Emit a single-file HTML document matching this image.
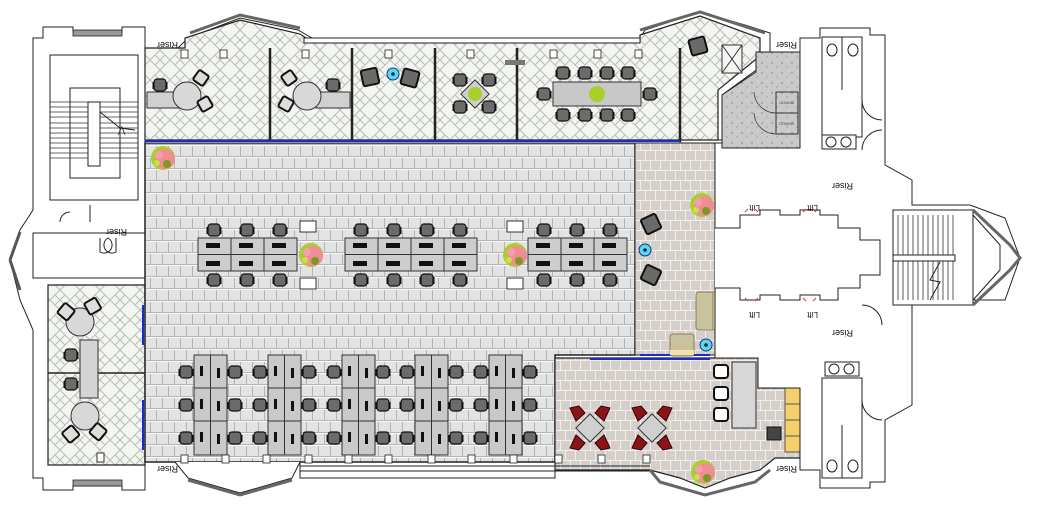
<!DOCTYPE html>
<html><head><meta charset="utf-8"><style>
html,body{margin:0;padding:0;background:#fff;width:1045px;height:510px;overflow:hidden}
svg{display:block}
text{font-family:"Liberation Sans",sans-serif}
</style></head><body>
<svg width="1045" height="510" viewBox="0 0 1045 510" xmlns="http://www.w3.org/2000/svg">
<defs>
<pattern id="tile" width="24" height="24" patternUnits="userSpaceOnUse">
<rect width="24" height="24" fill="#e3e3e3"/>
<path d="M0 .5H24M0 12.5H24M.5 0V12M12.5 0V12M6.5 12V24M18.5 12V24" stroke="#b4b4b4" stroke-width="1"/>
<path d="M0 1.5H24M0 13.5H24" stroke="#fafafa" stroke-width="1"/>
</pattern>
<pattern id="tile2" width="20" height="20" patternUnits="userSpaceOnUse">
<rect width="20" height="20" fill="#d5cfcb"/>
<path d="M0 .5H20M0 10.5H20M.5 0V10M10.5 0V10M5.5 10V20M15.5 10V20" stroke="#f2eeea" stroke-width="1"/>
</pattern>
<pattern id="herr" width="20" height="20" patternUnits="userSpaceOnUse">
<rect width="20" height="20" fill="#f3f6f0"/>
<path d="M0 10L10 0L20 10L10 20Z M0 0L5 5 M15 15L20 20 M20 0L15 5 M5 15L0 20" fill="none" stroke="#b9bdb5" stroke-width="1"/>
</pattern>
<pattern id="speck" width="10" height="10" patternUnits="userSpaceOnUse">
<rect width="10" height="10" fill="#c9c9c9"/><circle cx="2" cy="3" r=".7" fill="#777"/><circle cx="7" cy="7" r=".6" fill="#888"/><circle cx="8" cy="1" r=".5" fill="#eee"/>
</pattern>
<g id="ch"><rect x="-6" y="-6" width="12" height="12" rx="3" fill="#6b6b6b" stroke="#111" stroke-width="1.2"/><rect x="-7.5" y="-3" width="2" height="7" fill="#111"/><rect x="5.5" y="-3" width="2" height="7" fill="#111"/></g>
<g id="arm"><rect x="-8" y="-8" width="16" height="16" rx="2" fill="#6a6a6a" stroke="#111" stroke-width="2"/></g>
<g id="plant"><circle r="12" fill="#a9cf2c"/><circle cx="2" cy="1" r="10" fill="#f08c94"/><circle cx="-4" cy="-3" r="4" fill="#f2a0a8"/><circle cx="4" cy="6" r="4" fill="#7a9b22"/><circle cx="-6" cy="5" r="3" fill="#c9e04a"/></g>
<g id="rchair"><path d="M-7 -7 L2 -9 L8 -2 L-1 6 Z" fill="#8b1418" stroke="#300" stroke-width="1"/></g>
</defs>

<!-- LEFT CORE -->
<path d="M33 38H43V27H73V32H122V27H145V490H122V486H73V490H43V478H33V330L20 300L10 260L20 230L33 210Z" fill="#fff" stroke="#222" stroke-width="1"/>
<rect x="73" y="30" width="49" height="6" fill="#999" stroke="#222" stroke-width=".8"/>
<rect x="73" y="480" width="49" height="6" fill="#999" stroke="#222" stroke-width=".8"/>
<rect x="50" y="55" width="88" height="145" fill="#fff" stroke="#222"/>
<rect x="70" y="88" width="50" height="90" fill="none" stroke="#222"/>
<g stroke="#333" stroke-width=".8">
<path d="M50 102H138M50 107H138M50 112H138M50 117H138M50 123H138M50 128H138M50 133H138M50 138H138M50 143H138M50 148H138M50 153H138M50 158H138"/>
</g>
<rect x="88" y="102" width="12" height="64" fill="#fff" stroke="#222"/>
<path d="M100 112L120 128L135 130" fill="none" stroke="#222"/>
<text x="118" y="133" font-size="9" fill="#222">⋀</text>
<rect x="33" y="233" width="112" height="45" fill="#fff" stroke="#222"/>
<path d="M10 260L20 232M10 260L20 290" stroke="#555" stroke-width="3"/>
<text transform="translate(127,229) rotate(180)" font-size="9" fill="#111">Riser</text>
<text transform="translate(73,285) rotate(180)" font-size="9" fill="#111">FHR</text>
<path d="M60 222A10 10 0 0 1 70 212M90 205V222M100 238V252A8 8 0 0 0 108 238 A8 8 0 0 0 116 252V238" fill="none" stroke="#222"/>
<!-- left offices -->
<path d="M48 285H145V465H48Z" fill="url(#herr)" stroke="#222" stroke-width="1.2"/>
<line x1="48" y1="373" x2="145" y2="373" stroke="#222" stroke-width="1.5"/>
<rect x="80" y="340" width="18" height="58" fill="#d4d4d4" stroke="#333"/>
<circle cx="80" cy="322" r="14" fill="#d8d8d8" stroke="#333"/>
<circle cx="85" cy="416" r="14" fill="#d8d8d8" stroke="#333"/>
<use href="#ch" x="71" y="355"/><use href="#ch" x="71" y="384"/>
<rect x="60" y="305" width="13" height="13" rx="2" transform="rotate(40 66 311)" fill="#ddd" stroke="#111" stroke-width="2"/>
<rect x="86" y="300" width="13" height="13" rx="2" transform="rotate(-30 92 306)" fill="#ddd" stroke="#111" stroke-width="2"/>
<rect x="64" y="428" width="13" height="13" rx="2" transform="rotate(-40 70 434)" fill="#ddd" stroke="#111" stroke-width="2"/>
<rect x="92" y="425" width="13" height="13" rx="2" transform="rotate(40 98 431)" fill="#ddd" stroke="#111" stroke-width="2"/>
<rect x="97" y="453" width="7" height="9" fill="#fff" stroke="#333"/>
<line x1="143" y1="305" x2="143" y2="345" stroke="#1a2bd0" stroke-width="2"/>
<line x1="143" y1="400" x2="143" y2="450" stroke="#1a2bd0" stroke-width="2"/>

<!-- MAIN FLOOR -->
<path d="M145 143H635V355H555V462H145Z" fill="url(#tile)" stroke="#222" stroke-width="1.5"/>
<rect x="635" y="143" width="80" height="212" fill="url(#tile2)" stroke="#222"/>
<path d="M555 358H758V388H800V458H775L760 470L730 478L705 488L680 478L650 470H555Z" fill="url(#tile2)" stroke="#222" stroke-width="1.2"/>
<line x1="590" y1="359" x2="710" y2="359" stroke="#1a2bd0" stroke-width="2"/>
<line x1="640" y1="355" x2="710" y2="355" stroke="#1a2bd0" stroke-width="2"/>

<!-- TOP OFFICES -->
<path d="M145 48H178L188 38L240 18L298 30L312 38H640L645 30L700 12L745 25L770 33V60L722 95V140H680V143H145Z" fill="#fff" stroke="#222"/>
<path d="M145 48H185V38L240 20L300 34L312 42H640V35L700 16L760 38V56L718 90V140H145Z" fill="url(#herr)" stroke="#222" stroke-width="1.2"/>
<path d="M190 33L240 15L300 28M640 30L700 12L765 33" fill="none" stroke="#666" stroke-width="3"/>
<rect x="304" y="38" width="336" height="5" fill="#fff" stroke="#222"/>
<g stroke="#222" stroke-width="2.5">
<line x1="270" y1="48" x2="270" y2="142"/><line x1="352" y1="48" x2="352" y2="142"/><line x1="435" y1="48" x2="435" y2="142"/><line x1="517" y1="48" x2="517" y2="142"/><line x1="680" y1="48" x2="680" y2="142"/>
</g>
<line x1="145" y1="141" x2="680" y2="141" stroke="#1a2bd0" stroke-width="2"/>
<g fill="#fff" stroke="#222" stroke-width=".8">
<rect x="181" y="50" width="7" height="8"/><rect x="220" y="50" width="7" height="8"/><rect x="302" y="50" width="7" height="8"/><rect x="385" y="50" width="7" height="8"/><rect x="467" y="50" width="7" height="8"/><rect x="550" y="50" width="7" height="8"/><rect x="594" y="50" width="7" height="8"/><rect x="635" y="50" width="7" height="8"/>
</g>
<text transform="translate(178,42) rotate(180)" font-size="9" fill="#111">Riser</text>
<rect x="147" y="92" width="32" height="16" fill="#d0d0d0" stroke="#333"/>
<circle cx="187" cy="96" r="14" fill="#d8d8d8" stroke="#333"/>
<use href="#ch" x="160" y="85"/>
<rect x="195" y="72" width="12" height="12" rx="2" transform="rotate(35 201 78)" fill="#ddd" stroke="#111" stroke-width="2"/>
<rect x="199" y="98" width="12" height="12" rx="2" transform="rotate(-30 205 104)" fill="#ddd" stroke="#111" stroke-width="2"/>
<rect x="316" y="92" width="34" height="16" fill="#d0d0d0" stroke="#333"/>
<circle cx="307" cy="96" r="14" fill="#d8d8d8" stroke="#333"/>
<use href="#ch" x="333" y="85"/>
<rect x="283" y="72" width="12" height="12" rx="2" transform="rotate(-35 289 78)" fill="#ddd" stroke="#111" stroke-width="2"/>
<rect x="280" y="98" width="12" height="12" rx="2" transform="rotate(30 286 104)" fill="#ddd" stroke="#111" stroke-width="2"/>
<use href="#arm" x="370" y="77" transform="rotate(-12 370 77)"/>
<use href="#arm" x="410" y="78" transform="rotate(15 410 78)"/>
<circle cx="393" cy="74" r="6" fill="#5ad8ef" stroke="#138" stroke-width="1"/><circle cx="393" cy="74" r="1.8" fill="#123"/>
<g><use href="#ch" x="460" y="80"/><use href="#ch" x="489" y="80"/><use href="#ch" x="460" y="107"/><use href="#ch" x="489" y="107"/>
<rect x="465" y="84" width="20" height="20" transform="rotate(45 475 94)" fill="#cfcfcf" stroke="#333"/>
<circle cx="475" cy="94" r="7" fill="#a9cf2c"/></g>
<rect x="505" y="60" width="20" height="5" fill="#777"/>
<rect x="553" y="82" width="88" height="24" fill="#c8c8c8" stroke="#333"/>
<circle cx="597" cy="94" r="8" fill="#a9cf2c"/>
<use href="#ch" x="563" y="73"/><use href="#ch" x="585" y="73"/><use href="#ch" x="607" y="73"/><use href="#ch" x="628" y="73"/>
<use href="#ch" x="563" y="115"/><use href="#ch" x="585" y="115"/><use href="#ch" x="607" y="115"/><use href="#ch" x="628" y="115"/>
<use href="#ch" x="544" y="94"/><use href="#ch" x="650" y="94"/>
<use href="#arm" x="698" y="46" transform="rotate(-15 698 46)"/>
<rect x="722" y="45" width="20" height="28" fill="#f4f4f4" stroke="#333"/>
<path d="M722 45L742 73M742 45L722 73" stroke="#333"/>
<path d="M722 95L756 72V52H800V148H722Z" fill="url(#speck)" stroke="#222"/>
<rect x="776" y="92" width="22" height="42" fill="none" stroke="#333"/>
<line x1="776" y1="113" x2="798" y2="113" stroke="#333"/>
<text x="779" y="104" font-size="4" fill="#555">COMMS</text><text x="779" y="125" font-size="4" fill="#555">COMMS</text>
<path d="M754 92A22 22 0 0 0 776 113M754 113A22 22 0 0 0 776 134" fill="none" stroke="#333" stroke-width=".7"/>
<text transform="translate(801,72) rotate(90)" font-size="9" fill="#111">Riser</text>
<text transform="translate(797,42) rotate(180)" font-size="9" fill="#111">Riser</text>

<!-- desk clusters middle -->
<g>
<rect x="198" y="238" width="99" height="33" fill="#cdcdcd" stroke="#333"/>
<rect x="345" y="238" width="132" height="33" fill="#cdcdcd" stroke="#333"/>
<rect x="528" y="238" width="99" height="33" fill="#cdcdcd" stroke="#333"/>
<path d="M198 254.5H297M231 238V271M264 238V271M345 254.5H477M378 238V271M411 238V271M444 238V271M528 254.5H627M561 238V271M594 238V271" stroke="#333" fill="none"/>
<use href="#ch" x="214" y="230"/><use href="#ch" x="247" y="230"/><use href="#ch" x="280" y="230"/>
<use href="#ch" x="214" y="280"/><use href="#ch" x="247" y="280"/><use href="#ch" x="280" y="280"/>
<use href="#ch" x="361" y="230"/><use href="#ch" x="394" y="230"/><use href="#ch" x="427" y="230"/><use href="#ch" x="460" y="230"/>
<use href="#ch" x="361" y="280"/><use href="#ch" x="394" y="280"/><use href="#ch" x="427" y="280"/><use href="#ch" x="460" y="280"/>
<use href="#ch" x="544" y="230"/><use href="#ch" x="577" y="230"/><use href="#ch" x="610" y="230"/>
<use href="#ch" x="544" y="280"/><use href="#ch" x="577" y="280"/><use href="#ch" x="610" y="280"/>
<g fill="#111"><rect x="206" y="243" width="14" height="5"/><rect x="239" y="243" width="14" height="5"/><rect x="272" y="243" width="14" height="5"/><rect x="353" y="243" width="14" height="5"/><rect x="386" y="243" width="14" height="5"/><rect x="419" y="243" width="14" height="5"/><rect x="452" y="243" width="14" height="5"/><rect x="536" y="243" width="14" height="5"/><rect x="569" y="243" width="14" height="5"/><rect x="602" y="243" width="14" height="5"/>
<rect x="206" y="261" width="14" height="5"/><rect x="239" y="261" width="14" height="5"/><rect x="272" y="261" width="14" height="5"/><rect x="353" y="261" width="14" height="5"/><rect x="386" y="261" width="14" height="5"/><rect x="419" y="261" width="14" height="5"/><rect x="452" y="261" width="14" height="5"/><rect x="536" y="261" width="14" height="5"/><rect x="569" y="261" width="14" height="5"/><rect x="602" y="261" width="14" height="5"/></g>
<rect x="300" y="221" width="16" height="11" fill="#fff" stroke="#333"/><rect x="300" y="278" width="16" height="11" fill="#fff" stroke="#333"/>
<rect x="507" y="221" width="16" height="11" fill="#fff" stroke="#333"/><rect x="507" y="278" width="16" height="11" fill="#fff" stroke="#333"/>
<use href="#plant" x="311" y="255"/>
<use href="#plant" x="515" y="255"/>
<use href="#plant" x="163" y="158"/>
</g>

<!-- bottom clusters -->
<g id="bc">
<rect x="194" y="355" width="33" height="100" fill="#c9c9c9" stroke="#333"/>
<path d="M210.5 355V455M194 388H227M194 421H227" stroke="#333"/>
<use href="#ch" x="186" y="372"/><use href="#ch" x="186" y="405"/><use href="#ch" x="186" y="438"/>
<use href="#ch" x="235" y="372"/><use href="#ch" x="235" y="405"/><use href="#ch" x="235" y="438"/>
<rect x="200" y="366" width="3" height="10" fill="#111"/><rect x="200" y="399" width="3" height="10" fill="#111"/><rect x="200" y="432" width="3" height="10" fill="#111"/>
<rect x="217" y="368" width="3" height="10" fill="#111"/><rect x="217" y="401" width="3" height="10" fill="#111"/><rect x="217" y="434" width="3" height="10" fill="#111"/>
</g>
<use href="#bc" x="74"/><use href="#bc" x="148"/><use href="#bc" x="221"/><use href="#bc" x="295"/>

<!-- south wall -->
<path d="M145 462H300V478H555V462" fill="none" stroke="#222"/>
<path d="M175 462L188 478L240 493L292 478L300 462" fill="#fff" stroke="#222"/>
<path d="M188 480L240 495L292 480" fill="none" stroke="#666" stroke-width="3"/>
<path d="M300 466H650M300 471H650" stroke="#222" fill="none"/>
<path d="M650 470L660 482L705 495L755 482L770 470" fill="none" stroke="#666" stroke-width="3"/>
<text transform="translate(178,466) rotate(180)" font-size="9" fill="#111">Riser</text>
<text transform="translate(797,466) rotate(180)" font-size="9" fill="#111">Riser</text>
<g fill="#fff" stroke="#222" stroke-width=".8">
<rect x="181" y="455" width="7" height="8"/><rect x="222" y="455" width="7" height="8"/><rect x="263" y="455" width="7" height="8"/><rect x="305" y="455" width="7" height="8"/><rect x="345" y="455" width="7" height="8"/><rect x="385" y="455" width="7" height="8"/><rect x="428" y="455" width="7" height="8"/><rect x="468" y="455" width="7" height="8"/><rect x="510" y="455" width="7" height="8"/><rect x="555" y="455" width="7" height="8"/><rect x="598" y="455" width="7" height="8"/><rect x="643" y="455" width="7" height="8"/>
</g>

<!-- lounge items -->
<use href="#arm" x="651" y="224" transform="rotate(-25 651 224)"/>
<use href="#arm" x="651" y="275" transform="rotate(25 651 275)"/>
<circle cx="645" cy="250" r="6" fill="#5ad8ef" stroke="#138"/><circle cx="645" cy="250" r="1.8" fill="#123"/>
<circle cx="706" cy="345" r="6" fill="#5ad8ef" stroke="#138"/><circle cx="706" cy="345" r="1.8" fill="#123"/>
<use href="#plant" x="702" y="205"/>
<rect x="696" y="292" width="22" height="38" rx="3" fill="#c8c29e" stroke="#8a7e55"/>
<rect x="713" y="292" width="5" height="38" fill="#f2e2b2" stroke="#8a7e55"/>
<rect x="670" y="334" width="24" height="22" rx="3" fill="#c8c29e" stroke="#8a7e55"/>
<rect x="670" y="350" width="24" height="5" fill="#f2e2b2"/>

<!-- kitchen items -->
<rect x="732" y="362" width="24" height="66" fill="#d7d7d7" stroke="#333"/>
<g fill="#fff" stroke="#111" stroke-width="2">
<rect x="714" y="365" width="14" height="13" rx="3"/><rect x="714" y="387" width="14" height="13" rx="3"/><rect x="714" y="408" width="14" height="13" rx="3"/>
</g>
<rect x="785" y="388" width="15" height="64" fill="#f5cf6c" stroke="#555"/>
<path d="M785 404H800M785 420H800M785 436H800" stroke="#555"/>
<rect x="767" y="427" width="14" height="13" fill="#444" stroke="#111"/>
<g>
<rect x="580" y="418" width="20" height="20" transform="rotate(45 590 428)" fill="#d0d0d0" stroke="#333"/>
<rect x="642" y="418" width="20" height="20" transform="rotate(45 652 428)" fill="#d0d0d0" stroke="#333"/>
<g transform="translate(590 428)"><use href="#rchair" x="-13" y="-13"/><use href="#rchair" x="-13" y="-13" transform="scale(-1 1)"/><use href="#rchair" x="-13" y="-13" transform="scale(1 -1)"/><use href="#rchair" x="-13" y="-13" transform="scale(-1 -1)"/></g>
<g transform="translate(652 428)"><use href="#rchair" x="-13" y="-13"/><use href="#rchair" x="-13" y="-13" transform="scale(-1 1)"/><use href="#rchair" x="-13" y="-13" transform="scale(1 -1)"/><use href="#rchair" x="-13" y="-13" transform="scale(-1 -1)"/></g>
</g>
<use href="#plant" x="703" y="472"/>

<!-- RIGHT CORE -->
<path d="M800 148H722V143H715V358H758V388H800V470H820V488H870V482H885V420L912 405V300H1005L1020 258L1005 218L970 205H912V180L885 165V35H870V28H820V38H800Z" fill="#fff" stroke="#222"/>
<path d="M715 228H740V215H760V210H780V215H800V210H820V215H838V228H860V240H880V275H860V288H838V300H820V295H800V300H780V295H760V300H740V288H715" fill="#fff" stroke="#222"/>
<g stroke="#d33" stroke-width="1"><path d="M745 212l3 -3M758 212l-3 -3M803 212l3 -3M816 212l-3 -3M745 298l3 3M758 298l-3 3M803 298l3 3M816 298l-3 3"/></g>
<text transform="translate(760,205) rotate(180)" font-size="8" fill="#111">Lift</text>
<text transform="translate(818,205) rotate(180)" font-size="8" fill="#111">Lift</text>
<text transform="translate(760,312) rotate(180)" font-size="8" fill="#111">Lift</text>
<text transform="translate(818,312) rotate(180)" font-size="8" fill="#111">Lift</text>
<text transform="translate(853,183) rotate(180)" font-size="9" fill="#111">Riser</text>
<text transform="translate(853,330) rotate(180)" font-size="9" fill="#111">Riser</text>
<rect x="822" y="37" width="40" height="100" fill="none" stroke="#222"/>
<line x1="842" y1="37" x2="842" y2="90" stroke="#222"/>
<ellipse cx="832" cy="50" rx="5" ry="6" fill="#fff" stroke="#222"/><ellipse cx="853" cy="50" rx="5" ry="6" fill="#fff" stroke="#222"/>
<rect x="822" y="135" width="34" height="14" fill="#fff" stroke="#222"/>
<circle cx="831" cy="142" r="5" fill="#fff" stroke="#222"/><circle cx="846" cy="142" r="5" fill="#fff" stroke="#222"/>
<rect x="822" y="378" width="40" height="100" fill="none" stroke="#222"/>
<line x1="842" y1="425" x2="842" y2="478" stroke="#222"/>
<ellipse cx="832" cy="466" rx="5" ry="6" fill="#fff" stroke="#222"/><ellipse cx="853" cy="466" rx="5" ry="6" fill="#fff" stroke="#222"/>
<rect x="825" y="362" width="34" height="14" fill="#fff" stroke="#222"/>
<circle cx="834" cy="369" r="5" fill="#fff" stroke="#222"/><circle cx="849" cy="369" r="5" fill="#fff" stroke="#222"/>
<path d="M862 100A20 20 0 0 0 882 120M862 305A20 20 0 0 1 882 325M862 150A20 20 0 0 1 882 130M862 400A20 20 0 0 0 882 420" fill="none" stroke="#222"/>
<rect x="893" y="210" width="80" height="95" fill="#fff" stroke="#222"/>
<g stroke="#333" stroke-width=".8"><path d="M898 215V300M903 215V300M908 215V300M913 215V300M918 215V300M923 215V300M928 215V300M933 215V300M938 215V300M943 215V300M948 215V300M953 215V300"/></g>
<rect x="893" y="255" width="62" height="6" fill="#fff" stroke="#222"/>
<path d="M940 262L930 280L940 282L930 300" fill="none" stroke="#222"/>
<path d="M973 210L1010 245L1020 258L1010 270L973 305" fill="none" stroke="#666" stroke-width="3"/>
<path d="M973 215L1000 245V270L973 300" fill="none" stroke="#222"/>
</svg>
</body></html>
